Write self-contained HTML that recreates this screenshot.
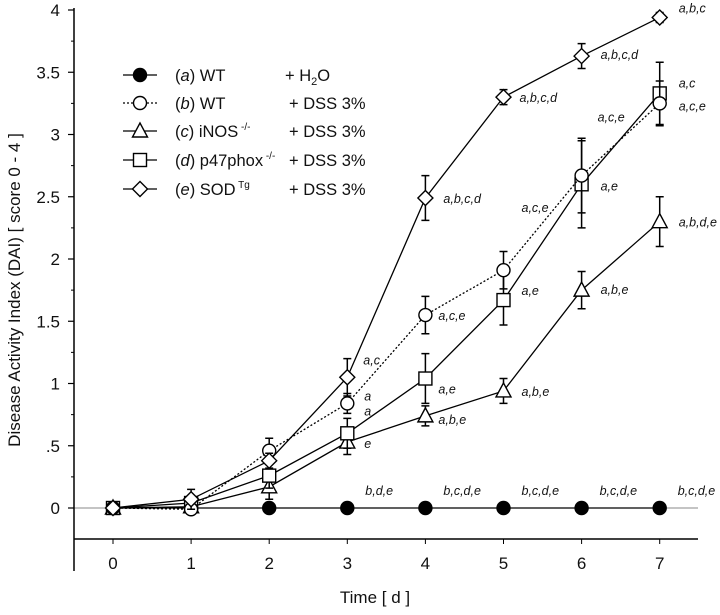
<!DOCTYPE html>
<html><head><meta charset="utf-8"><style>
body{margin:0;background:#fff}
svg text{font-family:"Liberation Sans",sans-serif;fill:#111}
.an{font-size:12.5px;font-style:italic}
</style></head><body>
<svg id="c" width="720" height="610" xmlns="http://www.w3.org/2000/svg"></svg>
<script>
const days=[0,1,2,3,4,5,6,7];
const yTicks=[0,0.5,1,1.5,2,2.5,3,3.5,4];
const yTickLabels=["0",".5","1","1.5","2","2.5","3","3.5","4"];
const aVals=[0,0,0,0,0,0,0,0];
const bVals=[0,-0.01,0.46,0.84,1.55,1.91,2.67,3.25];
const cVals=[0,0.01,0.17,0.53,0.74,0.94,1.75,2.3];
const dVals=[0,0.04,0.26,0.6,1.04,1.67,2.6,3.33];
const eVals=[0,0.07,0.38,1.05,2.49,3.3,3.63,3.94];
const bErr=[0,0.03,0.1,0.08,0.15,0.15,0.3,0.18];
const cErr=[0,0.03,0.1,0.1,0.08,0.1,0.15,0.2];
const dErr=[0,0.03,0.1,0.12,0.2,0.2,0.35,0.25];
const eErr=[0,0.08,0.06,0.15,0.18,0.06,0.1,0.04];
const aLabels=["","","","b,d,e","b,c,d,e","b,c,d,e","b,c,d,e","b,c,d,e"];
const bLabels=["","","","a","a,c,e","a,c,e","a,c,e","a,c,e"];
const cLabels=["","","","e","a,b,e","a,b,e","a,b,e","a,b,d,e"];
const dLabels=["","","","a","a,e","a,e","a,e","a,c"];
const eLabels=["","","","a,c","a,b,c,d","a,b,c,d","a,b,c,d","a,b,c"];
const X=v=>113+v*78.1, Y=v=>508-v*124.5;
const svg=document.getElementById('c');const NS="http://www.w3.org/2000/svg";
function mk(t,a,p){const e=document.createElementNS(NS,t);for(const k in a)e.setAttribute(k,a[k]);(p||svg).appendChild(e);return e;}
function txt(s,x,y,a,p){const e=mk('text',Object.assign({x:x,y:y},a),p);e.textContent=s;return e;}
let e;
e=mk('line',{x1:73,y1:Y(0),x2:698,y2:Y(0),stroke:'#888','stroke-width':1});

e=mk('line',{x1:74,y1:8,x2:74,y2:571,stroke:'#000','stroke-width':1.5});

e=mk('line',{x1:74,y1:539,x2:698,y2:539,stroke:'#000','stroke-width':1.5});

yTicks.forEach((v,i)=>{
 e=mk('line',{x1:68,y1:Y(v),x2:74,y2:Y(v),stroke:'#000','stroke-width':1.2});
 
 if(i<yTicks.length-1){e=mk('line',{x1:71,y1:Y(v+0.25),x2:74,y2:Y(v+0.25),stroke:'#000'});
 }
 e=txt(yTickLabels[i],60,Y(v)+6,{'text-anchor':'end','font-size':'17px'});
 
});
days.forEach(d=>{
 e=mk('line',{x1:X(d),y1:539,x2:X(d),y2:544,stroke:'#000'});
 
 e=txt(String(d),X(d),569,{'text-anchor':'middle','font-size':'17px'});
 
});
e=txt('Time [ d ]',375,603,{'text-anchor':'middle','font-size':'17px'});

e=txt('Disease Activity Index (DAI)  [ score 0 - 4 ]',0,0,{'text-anchor':'middle','font-size':'17px',transform:'translate(20,290) rotate(-90)'});

function marker(kind,x,y,g){
 const s={stroke:'#000','stroke-width':1.4,fill:'#fff'};
 if(kind==='a')return mk('circle',Object.assign({},s,{cx:x,cy:y,r:6.5,fill:'#000'}),g);
 if(kind==='b')return mk('circle',Object.assign({},s,{cx:x,cy:y,r:6.5}),g);
 if(kind==='c')return mk('polygon',Object.assign({},s,{points:`${x},${y-8} ${x-7.5},${y+6} ${x+7.5},${y+6}`}),g);
 if(kind==='d')return mk('rect',Object.assign({},s,{x:x-6.5,y:y-6.5,width:13,height:13}),g);
 return mk('polygon',Object.assign({},s,{points:`${x},${y-7.5} ${x+7.5},${y} ${x},${y+7.5} ${x-7.5},${y}`}),g);
}
const series=[['a',aVals,null,aLabels,''],['c',cVals,cErr,cLabels,''],['d',dVals,dErr,dLabels,''],['b',bVals,bErr,bLabels,'2,2'],['e',eVals,eErr,eLabels,'']];
const labOff={a:[18,-13],b:[16,5],c:[18,5],d:[18,5],e:[18,5]};
const specialOff={b7:[19,7],d7:[19,-6],e7:[19,-5],b6:[16,-54],b5:[18,-58],b4:[13,5],b3:[17,-3],d3:[17,-18],c3:[17,6],e3:[16,-13],d4:[13,15],d5:[18,-5],d6:[19,6],c4:[13,8],c6:[19,4],c7:[19,5],e6:[19,3],e5:[16,5],e4:[18,5]};
series.forEach(([k,vals,err,labs,dash])=>{
 const g=mk('g',{});
 const pts=days.map(d=>X(d)+','+Y(vals[d])).join(' ');
 e=mk('polyline',{points:pts,fill:'none',stroke:'#000','stroke-width':1.3,'stroke-dasharray':dash},g);
 
 days.forEach(d=>{
  if(err&&err[d]>0){const x=X(d);
   e=mk('path',{d:`M${x},${Y(vals[d]-err[d])}V${Y(vals[d]+err[d])}M${x-4},${Y(vals[d]+err[d])}h8M${x-4},${Y(vals[d]-err[d])}h8`,stroke:'#000','stroke-width':1.5,fill:'none'},g);
   }
 });
 days.forEach(d=>{
  e=marker(k,X(d),Y(vals[d]),g);
  
  if(labs[d]){const o=specialOff[k+d]||labOff[k];
   e=txt(labs[d],X(d)+o[0],Y(vals[d])+o[1],{'class':'an'},g);
   }
 });
});
const legKinds=['a','b','c','d','e'];
const legNames=['WT','WT','iNOS','p47phox','SOD'];
const legSup=['','',' -/-',' -/-',' Tg'];
const legRowY=[75,103,131,160,189];
const lg=mk('g',{});
legKinds.forEach((k,i)=>{
 const y=legRowY[i];
 const g=mk('g',{},lg);
 mk('line',{x1:123,y1:y,x2:157,y2:y,stroke:'#000','stroke-width':1.3,'stroke-dasharray':k==='b'?'2,2':''},g);
 marker(k,140,y,g);
 const t=mk('text',{x:175,y:y+6,'font-size':'16.5px'},g);
 t.innerHTML=`(<tspan font-style="italic">${k}</tspan>) ${legNames[i]}<tspan font-size="10px" dy="-7">${legSup[i]}</tspan>`;
 const t2=mk('text',{x:k==='a'?285:289,y:y+6,'font-size':'16.5px'},g);
 t2.innerHTML=k==='a'?'+  H<tspan font-size="11px" dy="4">2</tspan><tspan dy="-4">O</tspan>':'+ DSS 3%';
});
</script>
</body></html>
